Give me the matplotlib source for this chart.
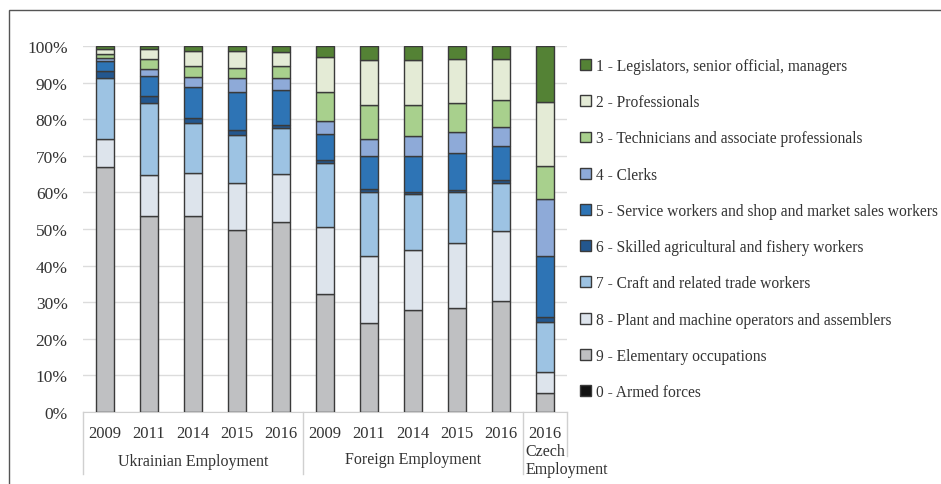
import numpy as np
import matplotlib
matplotlib.use('Agg')
import matplotlib.pyplot as plt
import matplotlib.patches as mpatches

plt.rcParams['font.family'] = ['Liberation Serif', 'DejaVu Serif']

years = ['2009', '2011', '2014', '2015', '2016',
         '2009', '2011', '2014', '2015', '2016', '2016']
groups = ['Ukrainian Employment', 'Foreign Employment', 'Czech\nEmployment']

labels = ['0 - Armed forces',
          '9 - Elementary occupations',
          '8 - Plant and machine operators and assemblers',
          '7 - Craft and related trade workers',
          '6 - Skilled agricultural and fishery workers',
          '5 - Service workers and shop and market sales workers',
          '4 - Clerks',
          '3 - Technicians and associate professionals',
          '2 - Professionals',
          '1 - Legislators, senior official, managers']

# shares in %, one list per occupation group (bottom to top of the stack)
armed      = [0, 0, 0, 0, 0, 0, 0, 0, 0, 0, 0]
elementary = [67.0, 53.5, 53.5, 49.7, 51.9, 32.3, 24.2, 28.0, 28.5, 30.4, 5.1]
plant      = [7.6, 11.3, 11.7, 12.8, 13.1, 18.2, 18.5, 16.3, 17.7, 19.0, 5.7]
craft      = [16.6, 19.6, 13.7, 13.2, 12.5, 17.4, 17.3, 15.2, 13.8, 13.2, 13.9]
skilled    = [2.0, 2.0, 1.4, 1.4, 1.0, 1.0, 0.9, 0.7, 0.7, 0.7, 1.3]
service    = [2.8, 5.3, 8.4, 10.2, 9.6, 7.1, 9.0, 9.8, 10.0, 9.5, 16.7]
clerks     = [0.6, 1.9, 2.9, 3.9, 3.2, 3.6, 4.7, 5.3, 5.7, 5.2, 15.5]
technic    = [1.3, 2.8, 3.0, 2.9, 3.1, 7.7, 9.3, 8.6, 8.0, 7.3, 9.1]
profs      = [1.4, 2.9, 3.9, 4.4, 4.0, 9.6, 12.4, 12.4, 12.0, 11.1, 17.3]
legis      = [0.7, 0.7, 1.5, 1.5, 1.6, 3.1, 3.7, 3.7, 3.6, 3.6, 15.4]

series = [armed, elementary, plant, craft, skilled, service, clerks, technic, profs, legis]
colors = ['#111111', '#bfc0c2', '#dde4ec', '#9dc3e3', '#23578f',
          '#2e74b5', '#8eaad8', '#a8d08d', '#e4ebd6', '#548235']

W, H = 941, 485
fig = plt.figure(figsize=(W / 100, H / 100), dpi=100)
ax = fig.add_axes([83 / W, (H - 413) / H, (567 - 83) / W, (413 - 47) / H])

x = np.arange(len(years))
bottom = np.zeros(len(years))
for vals, c in zip(series, colors):
    ax.bar(x, vals, bottom=bottom, width=0.41, color=c,
           edgecolor='#3a3a3a', linewidth=1.0, zorder=3)
    bottom += np.array(vals)

ax.set_xlim(-0.5, 10.5)
ax.set_ylim(0, 100)
ax.set_yticks(np.arange(0, 101, 10))
ax.set_yticklabels([f'{v}%' for v in range(0, 101, 10)], fontsize=12.5, color='#333333')
ax.tick_params(axis='y', length=0, pad=11)
ax.set_xticks([])
ax.grid(axis='y', color='#dcdcdc', linewidth=1.0, zorder=0)
for s in ['top', 'right', 'left']:
    ax.spines[s].set_visible(False)
ax.spines['bottom'].set_color('#d0d0d0')

# category axis with two levels
tr = ax.get_xaxis_transform()
def ypx(py):
    return (413 - py) / 366

for i, yr in enumerate(years):
    ax.text(i, ypx(434), yr, transform=tr, ha='center', va='center',
            fontsize=12, color='#333333')
ax.text(2, ypx(462), groups[0], transform=tr, ha='center', va='center',
        fontsize=11.5, color='#333333')
ax.text(7, ypx(460), groups[1], transform=tr, ha='center', va='center',
        fontsize=11.5, color='#333333')
ax.text(9.55, ypx(461), groups[2], transform=tr, ha='left', va='center',
        fontsize=11.5, color='#333333', linespacing=1.1)
for xs, yb in [(-0.5, 475), (4.5, 475), (9.5, 475), (10.5, 457)]:
    ax.plot([xs, xs], [0, ypx(yb)], transform=tr, color='#d0d0d0',
            linewidth=1.0, clip_on=False)

handles = [mpatches.Patch(facecolor=c, edgecolor='#3a3a3a', linewidth=1.0) for c in colors]
fig.legend(handles[::-1], labels[::-1], loc='upper left',
           bbox_to_anchor=(580 / W, (H - 59) / H), frameon=False,
           fontsize=11.2, handlelength=0.7, handleheight=0.7, handletextpad=0.35,
           labelspacing=1.30, borderpad=0, borderaxespad=0, labelcolor='#333333')

fig.add_artist(mpatches.Rectangle((9 / W, -0.1), 1.2, (H - 11) / H + 0.1,
                                  transform=fig.transFigure, fill=False,
                                  edgecolor='#555555', linewidth=1.0))

fig.savefig('out.png', dpi=100)
